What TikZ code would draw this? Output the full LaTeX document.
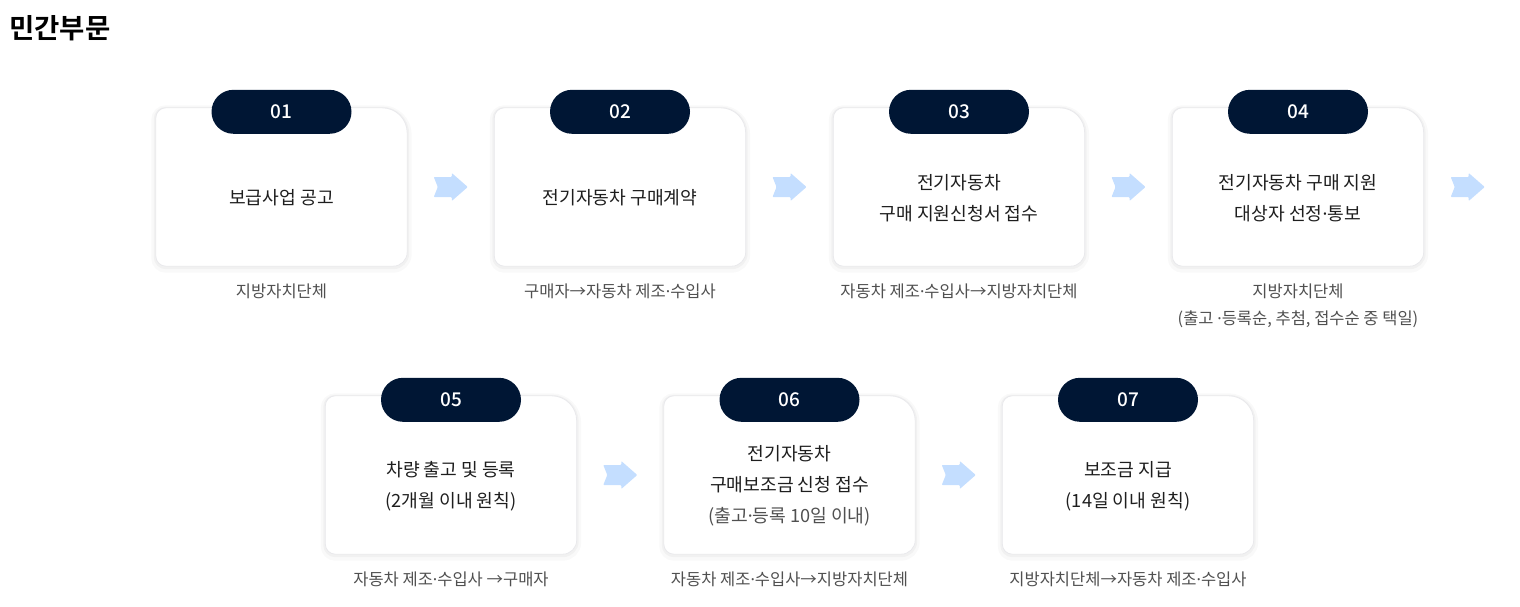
\documentclass[tikz,border=0pt]{standalone}
\usepackage{fontspec}
\setmainfont{Noto Sans CJK KR}[BoldFont=Noto Sans CJK KR Bold]
\newfontfamily\pillFont{Noto Sans CJK KR Medium}
\newfontfamily\latinFont{Noto Sans}
\usepackage{tikz}
\usetikzlibrary{positioning,calc}
\tikzstyle{pixelSheet} = [x = 1pt, y = -1pt]
\definecolor{pillColor}{HTML}{001634}
\definecolor{arrowColor}{HTML}{C4DEFF}
\definecolor{cardLineColor}{HTML}{E9E9EC}
\definecolor{bodyTextColor}{HTML}{1E1E1E}
\definecolor{noteTextColor}{HTML}{505050}
\newcommand{\midDot}{{\latinFont ·}}
\tikzstyle{cardBody} = [minimum width = 251pt, minimum height = 158pt, inner sep = 0pt]
\tikzstyle{cardStyle} = [fill=white, draw=cardLineColor, line width = .8pt,
  preaction={draw=black, opacity=0.025, line width=9pt, transform canvas={yshift=-2pt}},
  preaction={draw=black, opacity=0.03, line width=4pt, transform canvas={yshift=-1pt}}]
\tikzstyle{pillStyle} = [fill=pillColor, text=white, rounded corners = 22pt, minimum width = 140pt,
  minimum height = 44pt, inner sep = 0pt, font=\pillFont\fontsize{19}{22}\selectfont]
\tikzstyle{cardText} = [text=bodyTextColor, align=center, inner sep = 0pt, font=\fontsize{18.2}{31}\selectfont]
\tikzstyle{noteText} = [text=noteTextColor, align=center, inner sep = 0pt, font=\fontsize{16.5}{27}\selectfont]
\tikzstyle{flowArrowStyle} = [fill=arrowColor, rounded corners = .8pt]
\newcommand{\stepCard}[6]{
  \node [cardBody] (#1) at (#2, #3) {};
  \filldraw [cardStyle] ([yshift=10pt]#1.south west) -- ([yshift=-10pt]#1.north west)
    arc[start angle=180, end angle=90, radius=10pt] -- ([xshift=-25pt]#1.north east)
    arc[start angle=90, end angle=0, radius=25pt] -- ([yshift=14pt]#1.south east)
    arc[start angle=0, end angle=-90, radius=14pt] -- ([xshift=10pt]#1.south west)
    arc[start angle=270, end angle=180, radius=10pt] -- cycle;
  \node [pillStyle] (#1num) at ([yshift=-4pt]#1.north) {#4};
  \node [cardText] (#1text) at ([yshift=-11pt]#1.center) {#5};
  \node [noteText, below = 17pt of #1] (#1note) {#6};
}
\newcommand{\flowArrow}[1]{\fill [flowArrowStyle, shift={#1}] (-17,-10) -- (1,-10) -- (1,-14) -- (17,0) -- (1,14) -- (1,10) -- (-17,10) -- (-13,0) -- cycle;}

\begin{document}
\begin{tikzpicture}[pixelSheet]
  \useasboundingbox (0,0) rectangle (1520,607);
  \node [anchor=west, inner sep=0pt, font=\bfseries\fontsize{27.5}{30}\selectfont] (title) at (9,28) {민간부문};

  % first row
  \stepCard{card1}{281.5}{187}{01}{보급사업 공고}{지방자치단체}
  \stepCard{card2}{620}{187}{02}{전기자동차 구매계약}{구매자→자동차 제조\midDot 수입사}
  \stepCard{card3}{959}{187}{03}{전기자동차\\구매 지원신청서 접수}{자동차 제조\midDot 수입사→지방자치단체}
  \stepCard{card4}{1298}{187}{04}{전기자동차 구매 지원\\대상자 선정\midDot 통보}{지방자치단체\\(출고 \midDot 등록순, 추첨, 접수순 중 택일)}
  \flowArrow{($(card1.east)!0.5!(card2.west)$)}
  \flowArrow{($(card2.east)!0.5!(card3.west)$)}
  \flowArrow{($(card3.east)!0.5!(card4.west)$)}
  \flowArrow{([xshift=44pt]card4.east)}

  % second row
  \stepCard{card5}{451}{475}{05}{차량 출고 및 등록\\(2개월 이내 원칙)}{자동차 제조\midDot 수입사 →구매자}
  \stepCard{card6}{789.5}{475}{06}{전기자동차\\구매보조금 신청 접수\\{\color{noteTextColor}(출고\midDot 등록 10일 이내)}}{자동차 제조\midDot 수입사→지방자치단체}
  \stepCard{card7}{1128}{475}{07}{보조금 지급\\(14일 이내 원칙)}{지방자치단체→자동차 제조\midDot 수입사}
  \flowArrow{($(card5.east)!0.5!(card6.west)$)}
  \flowArrow{($(card6.east)!0.5!(card7.west)$)}
\end{tikzpicture}
\end{document}
